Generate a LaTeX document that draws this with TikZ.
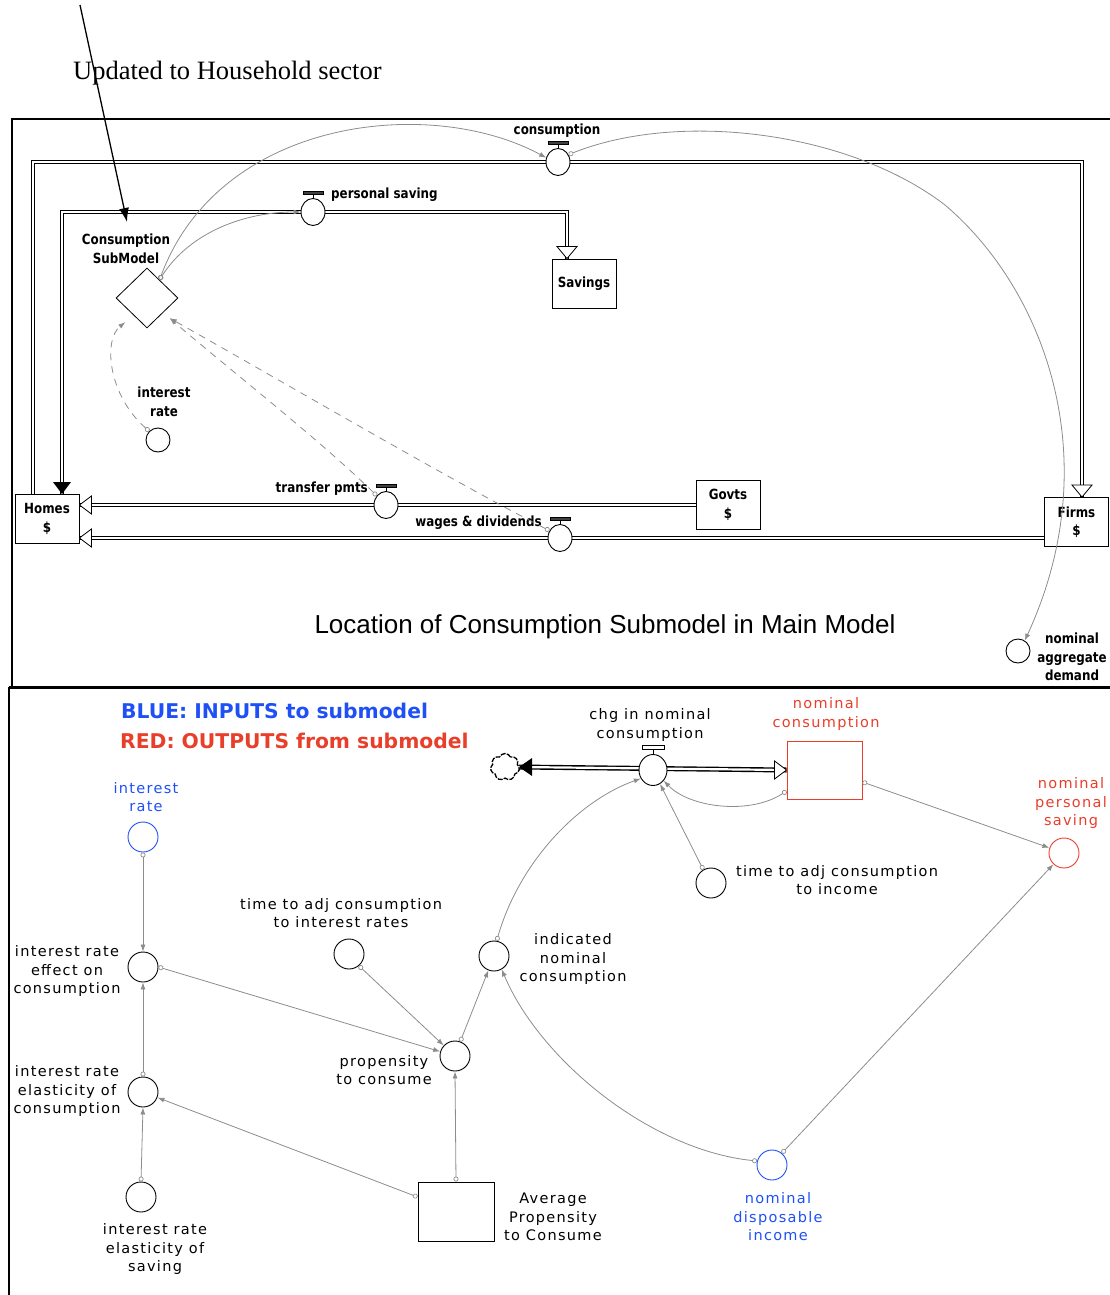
\documentclass[tikz,border=0pt]{standalone}
\usepackage{fontspec}
\setmainfont{Liberation Serif}
\newfontfamily\condbold{DejaVu Sans}[FakeStretch=0.85]
\newfontfamily\pixfont{DejaVu Sans}[LetterSpace=9]
\newfontfamily\legfont{DejaVu Sans}
\newfontfamily\titlefont{Liberation Sans}
\usetikzlibrary{arrows.meta,shapes.geometric,shapes.symbols,calc,backgrounds}
\definecolor{inblue}{RGB}{30,80,245}
\definecolor{outred}{RGB}{232,62,42}
\definecolor{linkgray}{RGB}{140,140,140}

% flow arrowheads placed at a tip point
\newcommand\hollowdown[1]{\draw[fill=white,line width=0.8pt] (#1) -- ++(-10,-12) -- ++(20,0) -- cycle;}
\newcommand\hollowleft[1]{\draw[fill=white,line width=0.8pt] (#1) -- ++(12,-9) -- ++(0,18) -- cycle;}
\newcommand\hollowright[1]{\draw[fill=white,line width=0.8pt] (#1) -- ++(-12,-9) -- ++(0,18) -- cycle;}
\newcommand\solidleft[1]{\fill (#1) -- ++(13,-9) -- ++(0,18) -- cycle;}
\newcommand\soliddown[1]{\fill (#1) -- ++(-9,-12) -- ++(18,0) -- cycle;}
% valve handle on top of a flow regulator
\newcommand\valvetop[1]{\draw[line width=0.9pt] (#1.north) -- ++(0,-4);
  \draw[fill=black!75,line width=0.6pt] ($(#1.north)+(-10,-7)$) rectangle ($(#1.north)+(10,-4)$);}

\begin{document}
\begin{tikzpicture}[x=1pt,y=-1pt,
  toplbl/.style={font=\condbold\bfseries\fontsize{14}{18.5}\selectfont, align=center, inner sep=0},
  stockbox/.style={draw, line width=0.9pt, minimum width=64pt, minimum height=49pt, inner sep=0, toplbl},
  valve/.style={draw, ellipse, fill=white, line width=0.9pt, minimum width=24pt, minimum height=27pt, inner sep=0},
  auxc/.style={draw, circle, fill=white, line width=0.9pt, minimum size=24pt, inner sep=0},
  auxb/.style={draw, circle, fill=white, line width=0.9pt, minimum size=30pt, inner sep=0},
  pix/.style={font=\pixfont\fontsize{14.5}{18.5}\selectfont, align=center, inner sep=0},
  pipe/.style={line width=1.2pt, double=white, double distance=2.2pt},
  infl/.style={draw=linkgray, line width=0.8pt,
    {Circle[open,length=5pt,width=5pt,line width=0.7pt]}-{Latex[length=7pt,width=5pt]}},
  dinfl/.style={infl, dash pattern=on 7pt off 6pt},
]
\useasboundingbox (0,0) rectangle (1110,1295);

% ---------- header ----------
\node[anchor=base west, inner sep=0, font=\fontsize{26.5}{30}\selectfont] (note) at (73,80) {Updated to Household sector};
\coordinate (ptail) at (80,5);
\coordinate (phead) at (127,222);
\draw[line width=1.3pt, -{Latex[length=14pt,width=10pt]}] (ptail) -- (phead);

% ---------- panel frames ----------
\draw[line width=2pt] (1110,119) -- (12,119) -- (12,687);
\draw[line width=3pt] (9,687) -- (1110,687);
\draw[line width=2.5pt] (9,687) -- (9,1295);

% ---------- main model ----------
\node[stockbox] (homes) at (47,519) {Homes\\\$};
\node[stockbox] (govts) at (728,505) {Govts\\\$};
\node[stockbox] (firms) at (1076.5,522) {Firms\\\$};
\node[stockbox] (savings) at (584,283.5) {Savings};
\node[draw, diamond, line width=0.8pt, minimum width=62pt, minimum height=60pt, inner sep=0] (sub) at (147,298) {};
\node[toplbl] (sublbl) at (126,249) {Consumption\\SubModel};

\node[valve] (cv) at (558,162) {};
\node[toplbl] (cvl) at (557,131) {consumption};
\node[valve] (psv) at (313,212) {};
\node[toplbl, anchor=west] (psvl) at (331,195) {personal saving};
\node[valve] (tpv) at (386,505) {};
\node[toplbl, anchor=east] (tpvl) at (368,489) {transfer pmts};
\node[valve] (wdv) at (560,538) {};
\node[toplbl, anchor=east] (wdvl) at (542,523) {wages \& dividends};

\node[auxc] (ir1) at (158,440) {};
\node[toplbl] (ir1l) at (164,402) {interest\\rate};
\node[auxc] (nad) at (1018,651) {};
\node[toplbl] (nadl) at (1072,657) {nominal\\aggregate\\demand};

\node[font=\titlefont\fontsize{26}{30}\selectfont, inner sep=0] (title) at (605,627) {Location of Consumption Submodel in Main Model};

\begin{scope}[on background layer]
  \draw[pipe] ([xshift=-14pt]homes.north) |- (cv.west);
  \draw[pipe] (cv.east) -| ([xshift=5.5pt]firms.north);
  \draw[pipe] ([xshift=15pt]homes.north) |- (psv.west);
  \draw[pipe] (psv.east) -| ([xshift=-17pt]savings.north);
  \draw[pipe] (govts.west) -- (homes.east |- govts.west);
  \draw[pipe] (firms.west |- wdv) -- (homes.east |- wdv);
\end{scope}
\hollowdown{[xshift=5.5pt]firms.north}
\hollowdown{[xshift=-17pt]savings.north}
\soliddown{[xshift=15pt]homes.north}
\hollowleft{homes.east |- govts.west}
\hollowleft{homes.east |- wdv}
\valvetop{cv}
\valvetop{psv}
\valvetop{tpv}
\valvetop{wdv}

\coordinate (subne) at ($(sub.north)!0.4!(sub.east)$);
\coordinate (subsw) at ($(sub.south west)+(-6,9)$);
\coordinate (subse) at ($(sub.south east)+(7,5)$);
\draw[infl] (subne) .. controls (220,118) and (430,95) .. (cv.160);
\draw[infl] (subne) .. controls (190,232) and (245,212) .. (psv.west);
\draw[infl] (cv.35) .. controls (680,110) and (850,132) .. (945,205)
  .. controls (1045,290) and (1108,460) .. (nad.57);
\draw[dinfl] (ir1.135) .. controls (108,395) and (103,340) .. (subsw);
\draw[dinfl] (tpv.135) .. controls (320,440) and (230,370) .. (subse);
\draw[dinfl] (wdv.145) .. controls (450,480) and (280,380) .. (subse);

% ---------- consumption submodel ----------
\node[anchor=west, font=\legfont\bfseries\fontsize{20.3}{24}\selectfont, text=inblue, inner sep=0] (leg1) at (121,711) {BLUE: INPUTS to submodel};
\node[anchor=west, font=\legfont\bfseries\fontsize{20.3}{24}\selectfont, text=outred, inner sep=0] (leg2) at (120,741) {RED: OUTPUTS from submodel};

\node[auxb, draw=inblue] (ir2) at (143,837) {};
\node[pix, text=inblue] (ir2l) at (146,797) {interest\\rate};
\node[auxb] (eff) at (143,967) {};
\node[pix] (effl) at (67,971) {interest rate\\effect on\\consumption};
\node[auxb] (elc) at (143,1092) {};
\node[pix] (elcl) at (67,1091) {interest rate\\elasticity of\\consumption};
\node[auxb] (els) at (141,1197) {};
\node[pix] (elsl) at (155,1249) {interest rate\\elasticity of\\saving};
\node[auxb] (tai) at (349,954) {};
\node[pix] (tail) at (341,913) {time to adj consumption\\to interest rates};
\node[auxb] (ptc) at (455,1056) {};
\node[pix] (ptcl) at (384,1070) {propensity\\to consume};
\node[auxb] (inc) at (494,956) {};
\node[pix] (incl) at (573,959) {indicated\\nominal\\consumption};
\node[valve, minimum width=28pt, minimum height=31pt] (chg) at (653,770) {};
\node[pix] (chgl) at (650,725) {chg in nominal\\consumption};
\node[draw=outred, line width=0.9pt, fill=white, minimum width=75pt, minimum height=58pt, inner sep=0] (ncons) at (824.5,770) {};
\node[pix, text=outred] (nconsl) at (826,714) {nominal\\consumption};
\node[auxb, draw=outred] (nps) at (1064,853) {};
\node[pix, text=outred] (npsl) at (1071,803) {nominal\\personal\\saving};
\node[auxb] (tti) at (711,883) {};
\node[pix] (ttil) at (837,880) {time to adj consumption\\to income};
\node[auxb, draw=inblue] (ndi) at (772,1165) {};
\node[pix, text=inblue] (ndil) at (778,1217) {nominal\\disposable\\income};
\node[draw, line width=0.9pt, minimum width=76pt, minimum height=59pt, inner sep=0] (apc) at (456,1211.5) {};
\node[pix] (apcl) at (553,1217) {Average\\Propensity\\to Consume};
% source cloud of the flow
\node[cloud, cloud puffs=7, cloud puff arc=130, draw, line width=1.3pt, dash pattern=on 5pt off 1.2pt,
  minimum width=29pt, minimum height=27pt, inner sep=0, outer sep=0] (cld) at (505,767) {};

\begin{scope}[on background layer]
  \draw[pipe, line width=1.4pt] (cld.east) -- (ncons.west);
\end{scope}
\solidleft{cld.east}
\hollowright{ncons.west}
\draw[line width=0.8pt] (chg.north) -- ++(0,-5);
\draw[fill=white, line width=0.8pt] ($(chg.north)+(-11,-9)$) rectangle ($(chg.north)+(11,-5)$);

\draw[infl] (ir2.south) -- (eff.north);
\draw[infl] (elc.north) -- (eff.south);
\draw[infl] (els.north) -- (elc.south);
\draw[infl] ([yshift=14.5pt]apc.west) -- (elc);
\draw[infl] (apc.north) -- (ptc.south);
\draw[infl] (eff.east) -- (ptc);
\draw[infl] (tai.-50) -- (ptc);
\draw[infl] (ptc.70) -- (inc);
\draw[infl] ([yshift=-12pt]ncons.east) -- (nps);
\draw[infl] (tti.120) -- (chg);
\draw[infl] (ndi.50) -- (nps);
\draw[infl] ([yshift=-21pt]ncons.west) .. controls (750,815) and (690,808) .. (chg.-45);
\draw[infl] (inc.80) .. controls (520,860) and (580,800) .. (chg.-145);
\draw[infl] (ndi.165) .. controls (650,1150) and (540,1060) .. (inc.-60);
\end{tikzpicture}
\end{document}
